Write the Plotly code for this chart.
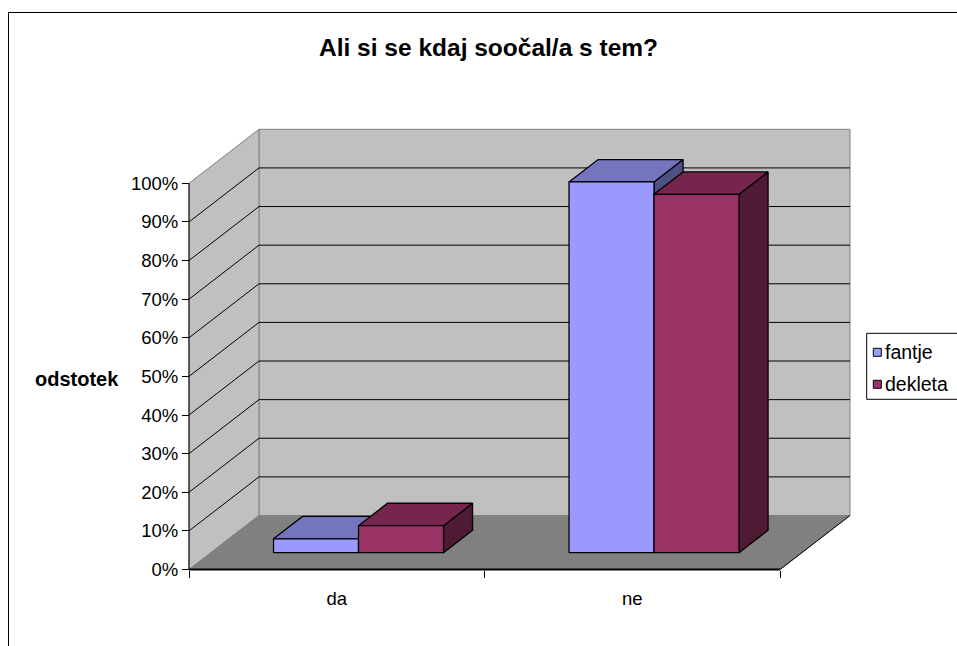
import plotly.graph_objects as go

# ---- data -------------------------------------------------------------
categories = ["da", "ne"]
series_names = ["fantje", "dekleta"]
fantje = [3.6, 96.0]
dekleta = [7.0, 92.8]
y_ticks = [0, 10, 20, 30, 40, 50, 60, 70, 80, 90, 100]
y_tick_labels = [f"{t}%" for t in y_ticks]
title_text = "Ali si se kdaj soočal/a s tem?"
y_title = "odstotek"

# ---- styling ----------------------------------------------------------
FONT = "Liberation Sans, Arial, sans-serif"
face_colors = {
    "fantje": {"front": "#9999FF", "top": "#7575BE", "side": "#505087"},
    "dekleta": {"front": "#993366", "top": "#76264E", "side": "#4E1A34"},
}
WALL = "#C0C0C0"
FLOOR = "#808080"
EDGE = "#808080"

# ---- page / projection geometry ---------------------------------------
W, H = 957, 646
X0_PX, Y0_PX = 189.0, 569.5          # front-left corner of the floor
PX_PER_CAT = 295.5                   # pixels per category slot
PX_PER_PCT = 3.862                   # pixels per percent
DX = 70.0 / PX_PER_CAT               # depth offset in x units
DY = 54.0 / PX_PER_PCT               # depth offset in percent units
NCAT = len(categories)
YMAX = 100.0
BAR_W = 85.0 / PX_PER_CAT
F0, F1 = 0.311, 0.726                # bar front/back depth fractions

PAD_X = 12.0 / PX_PER_CAT
PAD_Y = 12.0 / PX_PER_PCT
XMIN, XMAX = -PAD_X, NCAT + DX + 4.0 / PX_PER_CAT
YMIN, YTOP = -PAD_Y, YMAX + DY + 4.0 / PX_PER_PCT

def paper_x(u):
    return (X0_PX + u * PX_PER_CAT) / W

def paper_y(v):
    return (H - Y0_PX + v * PX_PER_PCT) / H

def proj(x, y, f):
    return x + f * DX, y + f * DY

fig = go.Figure()

# ---- walls, floor and gridlines --------------------------------------
def poly(points, fill, line_color, width=1):
    path = "M " + " L ".join(f"{x},{y}" for x, y in points) + " Z"
    fig.add_shape(type="path", path=path, xref="x", yref="y", layer="below",
                  fillcolor=fill, line=dict(color=line_color, width=width))

def seg(p, q, color, width=1):
    fig.add_shape(type="line", xref="x", yref="y", layer="below",
                  x0=p[0], y0=p[1], x1=q[0], y1=q[1],
                  line=dict(color=color, width=width))

poly([(DX, DY), (NCAT + DX, DY), (NCAT + DX, YMAX + DY), (DX, YMAX + DY)], WALL, EDGE)
poly([(0, 0), (DX, DY), (DX, YMAX + DY), (0, YMAX)], WALL, EDGE)
poly([(0, 0), (NCAT, 0), (NCAT + DX, DY), (DX, DY)], FLOOR, FLOOR)
seg((NCAT, 0), (NCAT + DX, DY), "#000000", 1)

for t in y_ticks[1:-1]:
    seg((DX, t + DY), (NCAT + DX, t + DY), "#000000", 1)
    seg((0, t), (DX, t + DY), "#000000", 1)

# front axis lines
seg((0, 0), (0, YMAX), "#000000", 1)
seg((0, 0), (NCAT, 0), "#000000", 2)

# ---- bars -------------------------------------------------------------
values = {"fantje": fantje, "dekleta": dekleta}
for i, cat in enumerate(categories):
    for s, name in enumerate(series_names):
        v = values[name][i]
        xl = i + 0.5 + (s - 1) * BAR_W
        xr = xl + BAR_W
        faces = {
            "side": [proj(xr, 0, F0), proj(xr, 0, F1), proj(xr, v, F1), proj(xr, v, F0)],
            "top": [proj(xl, v, F0), proj(xr, v, F0), proj(xr, v, F1), proj(xl, v, F1)],
            "front": [proj(xl, 0, F0), proj(xr, 0, F0), proj(xr, v, F0), proj(xl, v, F0)],
        }
        for face in ("side", "top", "front"):
            pts = faces[face] + [faces[face][0]]
            fig.add_trace(go.Scatter(
                x=[p[0] for p in pts], y=[p[1] for p in pts],
                mode="lines", fill="toself",
                fillcolor=face_colors[name][face],
                line=dict(color="#000000", width=1.3),
                hoverinfo="skip", showlegend=False,
            ))

# ---- legend box -------------------------------------------------------
LEG_X0, LEG_Y0, LEG_Y1 = 866.7, 333.3, 399.3
fig.add_shape(type="rect", xref="paper", yref="paper",
              x0=LEG_X0 / W, x1=(W + 20) / W,
              y0=1 - LEG_Y1 / H, y1=1 - LEG_Y0 / H,
              fillcolor="white", line=dict(color="#000000", width=1))
for k, name in enumerate(series_names):
    cy = 352.3 + 32.0 * k
    fig.add_shape(type="rect", xref="paper", yref="paper",
                  x0=873.3 / W, x1=881.3 / W,
                  y0=1 - (cy + 4) / H, y1=1 - (cy - 4) / H,
                  fillcolor=face_colors[name]["front"],
                  line=dict(color="#000000", width=1))
    fig.add_annotation(text=name, xref="paper", yref="paper",
                       x=882.5 / W, y=1 - cy / H, xanchor="left", yanchor="middle",
                       showarrow=False, font=dict(family=FONT, size=19.5, color="#000000"))

# ---- outer chart border ----------------------------------------------
fig.add_shape(type="rect", xref="paper", yref="paper",
              x0=8.5 / W, x1=(W + 20) / W, y0=-0.05, y1=1 - 12.5 / H,
              line=dict(color="#000000", width=1), fillcolor="rgba(0,0,0,0)")

# ---- titles -----------------------------------------------------------
fig.add_annotation(text=f"<b>{title_text}</b>", xref="paper", yref="paper",
                   x=488.4 / W, y=1 - 48.0 / H, xanchor="center", yanchor="middle",
                   showarrow=False, font=dict(family=FONT, size=24.5, color="#000000"))
fig.add_annotation(text=f"<b>{y_title}</b>", xref="paper", yref="paper",
                   x=76.7 / W, y=1 - 378.5 / H, xanchor="center", yanchor="middle",
                   showarrow=False, font=dict(family=FONT, size=20, color="#000000"))

# helper trace so the tick-mark axis is always rendered
fig.add_trace(go.Scatter(x=[None], y=[None], xaxis="x2", yaxis="y",
                         showlegend=False, hoverinfo="skip"))

axis_common = dict(domain=[paper_x(XMIN), paper_x(XMAX)], range=[XMIN, XMAX],
                   showgrid=False, zeroline=False, showline=False,
                   anchor="free", position=paper_y(0), fixedrange=True)

fig.update_layout(
    width=W, height=H,
    margin=dict(l=0, r=0, t=0, b=0, autoexpand=False),
    paper_bgcolor="white", plot_bgcolor="rgba(0,0,0,0)",
    showlegend=False,
    font=dict(family=FONT, color="#000000"),
    xaxis=dict(**axis_common,
               tickmode="array", tickvals=[i + 0.5 for i in range(NCAT)],
               ticktext=categories, ticks="outside", ticklen=12,
               tickcolor="rgba(0,0,0,0)",
               tickfont=dict(family=FONT, size=18.5, color="#000000")),
    xaxis2=dict(**axis_common, overlaying="x",
                tickmode="array", tickvals=list(range(NCAT + 1)),
                ticks="outside", ticklen=7, tickcolor="#000000", tickwidth=1,
                showticklabels=False),
    yaxis=dict(domain=[paper_y(YMIN), paper_y(YTOP)], range=[YMIN, YTOP],
               showgrid=False, zeroline=False, showline=False,
               anchor="free", position=paper_x(0), fixedrange=True,
               tickmode="array", tickvals=y_ticks, ticktext=y_tick_labels,
               ticks="outside", ticklen=7, tickcolor="#000000", tickwidth=1,
               tickfont=dict(family=FONT, size=18.5, color="#000000")),
)

fig.write_html("out.html")
